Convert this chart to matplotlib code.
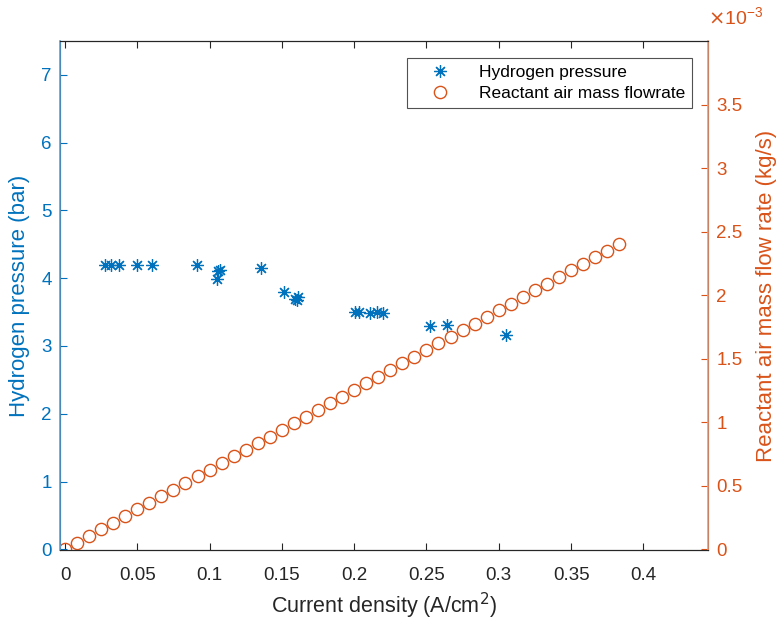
import numpy as np
import matplotlib
matplotlib.use('Agg')
import matplotlib.pyplot as plt
from matplotlib.ticker import FixedLocator, FuncFormatter

plt.rcParams['font.family'] = ['Liberation Sans', 'DejaVu Sans']

# Hydrogen pressure samples (A/cm2, bar)
h2_j = [0.0277, 0.0316, 0.0375, 0.0496, 0.0600, 0.0915, 0.1049, 0.1058, 0.1070,
        0.1353, 0.1516, 0.1590, 0.1606, 0.1610, 0.2005, 0.2034, 0.2108, 0.2155,
        0.2196, 0.2523, 0.2639, 0.3049]
h2_p = [4.20, 4.20, 4.20, 4.20, 4.19, 4.20, 3.99, 4.10, 4.12,
        4.15, 3.79, 3.70, 3.68, 3.72, 3.50, 3.50, 3.49, 3.50,
        3.49, 3.30, 3.31, 3.16]

# Reactant air mass flowrate (A/cm2, kg/s x 1e-3)
air_j = [0.0000, 0.0083, 0.0167, 0.0250, 0.0333, 0.0417, 0.0500, 0.0583, 0.0667,
         0.0750, 0.0833, 0.0917, 0.1000, 0.1083, 0.1167, 0.1250, 0.1333, 0.1417,
         0.1500, 0.1583, 0.1667, 0.1750, 0.1833, 0.1917, 0.2000, 0.2083, 0.2167,
         0.2250, 0.2333, 0.2417, 0.2500, 0.2583, 0.2667, 0.2750, 0.2833, 0.2917,
         0.3000, 0.3083, 0.3167, 0.3250, 0.3333, 0.3417, 0.3500, 0.3583, 0.3667,
         0.3750, 0.3833]
air_m = [0.000, 0.052, 0.105, 0.157, 0.209, 0.261, 0.314, 0.366, 0.418,
         0.470, 0.523, 0.575, 0.627, 0.679, 0.732, 0.784, 0.836, 0.888,
         0.941, 0.993, 1.045, 1.097, 1.150, 1.202, 1.254, 1.306, 1.359,
         1.411, 1.463, 1.515, 1.568, 1.620, 1.672, 1.724, 1.777, 1.829,
         1.881, 1.933, 1.986, 2.038, 2.090, 2.142, 2.195, 2.247, 2.299,
         2.351, 2.404]

x_ticks = [0, 0.05, 0.1, 0.15, 0.2, 0.25, 0.3, 0.35, 0.4]
left_ticks = [0, 1, 2, 3, 4, 5, 6, 7]
right_ticks = [0, 0.5, 1, 1.5, 2, 2.5, 3, 3.5]

blue = '#0072BD'
orange = '#D95319'
dark = '#262626'

fig = plt.figure(figsize=(7.78, 6.24), dpi=100)
ax = fig.add_axes([0.0771, 0.1186, 0.8329, 0.8157])
ax2 = ax.twinx()

l1, = ax.plot(h2_j, h2_p, linestyle='none', marker=(8, 2, 0), markersize=9,
              markeredgewidth=0.9, color=blue, label='Hydrogen pressure')
l2, = ax2.plot(air_j, air_m, linestyle='none', marker='o', markersize=8.8,
               markerfacecolor='none', markeredgewidth=1.0, color=orange,
               label='Reactant air mass flowrate')

ax.set_xlim(-0.0035, 0.4447)
ax.set_ylim(-0.01, 7.5)
ax2.set_ylim(-0.005, 4.0)

ax.xaxis.set_major_locator(FixedLocator(x_ticks))
ax.xaxis.set_major_formatter(FuncFormatter(lambda v, p: '%g' % v))
ax.yaxis.set_major_locator(FixedLocator(left_ticks))
ax2.yaxis.set_major_locator(FixedLocator(right_ticks))
ax2.yaxis.set_major_formatter(FuncFormatter(lambda v, p: '%g' % v))

ax.tick_params(axis='x', direction='in', length=5, colors=dark, labelsize=13.5,
               top=True, pad=12)
ax.tick_params(axis='y', direction='in', length=5, colors=blue, labelsize=13.5,
               pad=6)
ax2.tick_params(axis='y', direction='in', length=5, colors=orange, labelsize=13.5,
                pad=6)

for s in ['top', 'bottom']:
    ax2.spines[s].set_color(dark)
ax2.spines['left'].set_color('#5aa5dc')
ax2.spines['right'].set_color('#f09b78')
ax2.spines['left'].set_linewidth(1.2)
ax2.spines['right'].set_linewidth(1.2)

ax.set_xlabel('Current density (A/cm$^2$)', fontsize=15.5, color=dark, labelpad=5)
ax.set_ylabel('Hydrogen pressure (bar)', fontsize=16, color=blue, labelpad=8)
ax2.set_ylabel('Reactant air mass flow rate (kg/s)', fontsize=16, color=orange,
               labelpad=10)

ax2.text(1.0, 1.025, r'$\times\mathregular{10^{-3}}$', transform=ax.transAxes,
         color=orange, fontsize=14, ha='left', va='bottom')

leg = ax2.legend(handles=[l1, l2], loc='upper right',
                 bbox_to_anchor=(0.975, 0.967), fontsize=12.5, frameon=True,
                 fancybox=False, edgecolor=dark, handletextpad=0.75,
                 borderpad=0.4, labelspacing=0.35, handlelength=3.0,
                 borderaxespad=0)
leg.get_frame().set_linewidth(0.8)

fig.savefig('out.png', dpi=100)
